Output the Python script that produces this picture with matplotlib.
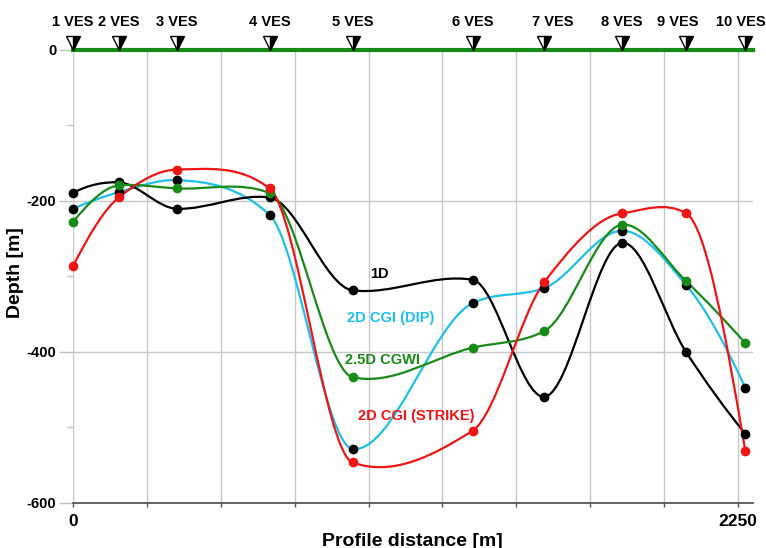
import numpy as np
import matplotlib
matplotlib.use("Agg")
import matplotlib.pyplot as plt
from matplotlib.path import Path
from matplotlib.patches import PathPatch
from matplotlib.transforms import offset_copy

plt.rcParams['font.family'] = ['Liberation Sans', 'DejaVu Sans']
plt.rcParams['font.weight'] = 'bold'
plt.rcParams['axes.unicode_minus'] = False

# ---------------- data ----------------
ves_names = ['1 VES', '2 VES', '3 VES', '4 VES', '5 VES',
             '6 VES', '7 VES', '8 VES', '9 VES', '10 VES']
ves_distance = [0, 155, 352, 665, 946, 1352, 1595, 1858, 2075, 2275]

depth_1d = [-190, -176, -211, -196, -319, -305, -460, -256, -401, -509]
depth_2d_dip = [-211, -189, -173, -219, -529, -336, -316, -240, -312, -448]
depth_25d_cgwi = [-228, -180, -184, -190, -434, -395, -373, -232, -307, -389]
depth_2d_strike = [-287, -196, -159, -184, -547, -505, -308, -217, -217, -532]

xtick_values = [0, 250, 500, 750, 1000, 1250, 1500, 1750, 2000, 2250]
xtick_labels = ['0', '', '', '', '', '', '', '', '', '2250']
ytick_values = [-600, -400, -200, 0]
ytick_labels = ['-600', '-400', '-200', '0']
yminor_values = [-500, -300, -100]

series = [
    ('2D CGI (DIP)', depth_2d_dip, '#1DBFEE', 'black'),
    ('1D', depth_1d, 'black', 'black'),
    ('2.5D CGWI', depth_25d_cgwi, '#178A17', '#178A17'),
    ('2D CGI (STRIKE)', depth_2d_strike, '#EE1515', '#EE1515'),
]

# small horizontal nudges (points) of the station labels, as in the original
label_dx = {'7 VES': 6, '9 VES': -6, '10 VES': -3}

SMOOTH_BLEND = 0.3   # 0 = monotone spline, 1 = Catmull-Rom


def spline_slopes(x, y):
    x = np.asarray(x, float)
    y = np.asarray(y, float)
    h = np.diff(x)
    m = np.diff(y) / h
    n = len(x)
    d = np.zeros(n)
    cr = np.zeros(n)
    for k in range(1, n - 1):
        cr[k] = (y[k + 1] - y[k - 1]) / (x[k + 1] - x[k - 1])
        if m[k - 1] * m[k] <= 0:
            d[k] = 0.0
        else:
            w1 = 2 * h[k] + h[k - 1]
            w2 = h[k] + 2 * h[k - 1]
            d[k] = (w1 + w2) / (w1 / m[k - 1] + w2 / m[k])

    def end(h0, h1, m0, m1):
        dd = ((2 * h0 + h1) * m0 - h0 * m1) / (h0 + h1)
        if np.sign(dd) != np.sign(m0):
            dd = 0.0
        elif np.sign(m0) != np.sign(m1) and abs(dd) > 3 * abs(m0):
            dd = 3 * m0
        return dd

    d[0] = end(h[0], h[1], m[0], m[1])
    d[-1] = end(h[-1], h[-2], m[-1], m[-2])
    cr[0], cr[-1] = d[0], d[-1]
    return d + SMOOTH_BLEND * (cr - d)


def smooth_path(xs, ys):
    xs = np.asarray(xs, float)
    ys = np.asarray(ys, float)
    d = spline_slopes(xs, ys)
    verts = [(xs[0], ys[0])]
    codes = [Path.MOVETO]
    for i in range(len(xs) - 1):
        h = xs[i + 1] - xs[i]
        verts += [(xs[i] + h / 3, ys[i] + d[i] * h / 3),
                  (xs[i + 1] - h / 3, ys[i + 1] - d[i + 1] * h / 3),
                  (xs[i + 1], ys[i + 1])]
        codes += [Path.CURVE4] * 3
    return Path(verts, codes)


fig = plt.figure(figsize=(7.66, 5.48), dpi=100)
ax = fig.add_axes([73 / 766, 1 - 502.5 / 548, (752.7 - 73) / 766, (502.5 - 49.5) / 548])
ax.set_xlim(0, 2300)
ax.set_ylim(-600, 0)

ax.set_axisbelow(True)
ax.set_xticks(xtick_values)
ax.set_xticklabels(xtick_labels)
ax.set_yticks(ytick_values)
ax.set_yticklabels(ytick_labels)
ax.set_yticks(yminor_values, minor=True)
ax.grid(True, which='major', color='#c8c8c8', lw=1)

for s in ['top', 'right', 'left']:
    ax.spines[s].set_visible(False)
ax.spines['bottom'].set_color('#555555')
ax.spines['bottom'].set_linewidth(1.3)

ax.tick_params(axis='y', which='major', length=10, color='#c0c0c0', width=1,
               labelsize=10.5, pad=2)
ax.tick_params(axis='y', which='minor', length=4.5, color='#c0c0c0', width=1)
ax.tick_params(axis='x', which='major', length=3, color='#555555', width=1,
               labelsize=12.5, pad=5)

# zero line
ax.axhline(0, color='#178A17', lw=3, zorder=4, clip_on=False)

# curves
for name, vals, lc, mc in series:
    ax.add_patch(PathPatch(smooth_path(ves_distance, vals), facecolor='none',
                           edgecolor=lc, lw=1.6, zorder=2))
for name, vals, lc, mc in series:
    ax.plot(ves_distance, vals, ls='none', marker='o', ms=6, color=mc,
            zorder=3, clip_on=False)

# VES markers
ms = 10
tr = offset_copy(ax.transData, fig=fig, x=0, y=ms / 2, units='points')
ax.plot(ves_distance, np.zeros(len(ves_distance)), ls='none', marker='v', ms=ms,
        fillstyle='right', markerfacecolor='black', markerfacecoloralt='white',
        markeredgecolor='black', mew=1, transform=tr, clip_on=False, zorder=5)
for name, xv in zip(ves_names, ves_distance):
    ax.annotate(name, (xv, 0), xytext=(label_dx.get(name, 0), 20),
                textcoords='offset points', ha='center', va='center',
                fontsize=10.5, fontweight='bold', annotation_clip=False)

# curve labels
ax.text(1036, -297, '1D', color='black', fontsize=10.5, fontweight='bold',
        ha='center', va='center')
ax.text(1076, -355, '2D CGI (DIP)', color='#1DBFEE', fontsize=10.5,
        fontweight='bold', ha='center', va='center')
ax.text(1048, -411, '2.5D CGWI', color='#178A17', fontsize=10.5,
        fontweight='bold', ha='center', va='center')
ax.text(1163, -486, '2D CGI (STRIKE)', color='#EE1515', fontsize=10.5,
        fontweight='bold', ha='center', va='center')

fig.text(16 / 766, 1 - 273 / 548, 'Depth [m]', rotation=90, ha='center',
         va='center', fontsize=14, fontweight='bold')
fig.text(412 / 766, 1 - 541 / 548, 'Profile distance [m]', ha='center',
         va='center', fontsize=14, fontweight='bold')

fig.savefig('out.png', dpi=100)
